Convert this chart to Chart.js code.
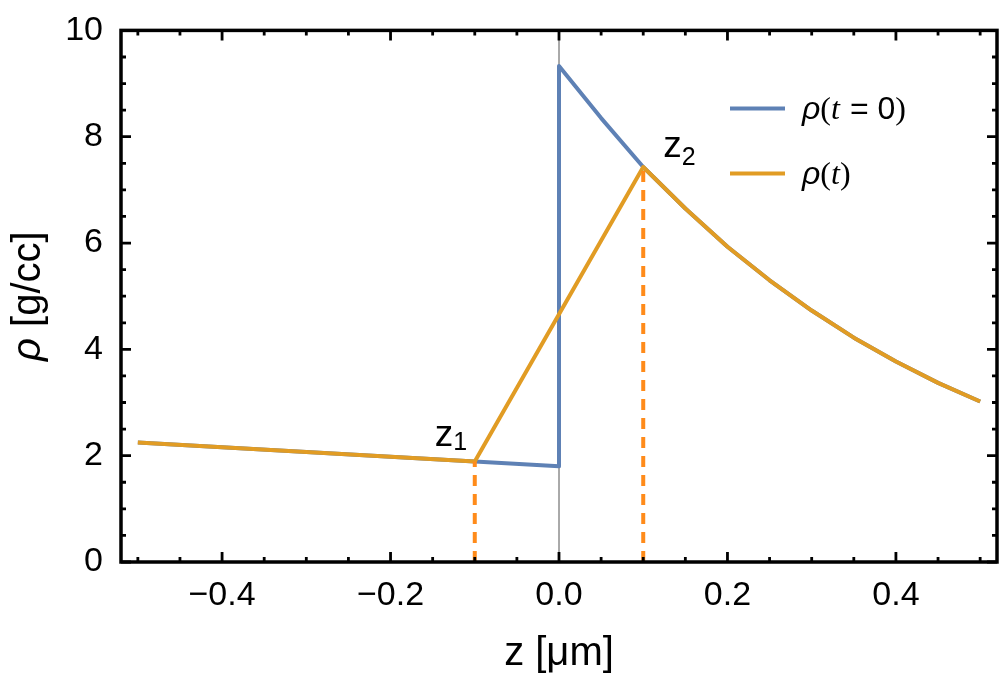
<!DOCTYPE html>
<html>
<head>
<meta charset="utf-8">
<script src="https://cdn.jsdelivr.net/npm/chart.js@4.4.1/dist/chart.umd.min.js"></script>
<style>
    html, body { margin: 0; padding: 0; background: #fff; }
    #wrap { width: 1000px; height: 675px; }
</style>
</head>
<body>
<div id="wrap"><canvas id="grafica" width="1000" height="675"></canvas></div>
<script>
// posiciones z [μm] y densidad rho [g/cc]
const zLeft = [-0.5, -0.1, 0.0];
const rhoLeft = [2.25, 1.89, 1.80];
const zRight = [0.0, 0.05, 0.1, 0.15, 0.2, 0.25, 0.3, 0.35, 0.4, 0.45, 0.5];
const rhoRight = [9.33, 8.35, 7.43, 6.65, 5.93, 5.30, 4.73, 4.22, 3.77, 3.37, 3.02];

// frentes z1 y z2
const zFronts = [-0.1, 0.1];
const rhoFronts = [1.89, 7.43];

// marcas de los ejes
const xTicks = [-0.4, -0.2, 0.0, 0.2, 0.4];
const xMinor = [-0.5, -0.45, -0.35, -0.3, -0.25, -0.15, -0.1, -0.05, 0.05, 0.1, 0.15, 0.25, 0.3, 0.35, 0.45, 0.5];
const yTicks = [0, 2, 4, 6, 8, 10];
const yMinor = [0.5, 1, 1.5, 2.5, 3, 3.5, 4.5, 5, 5.5, 6.5, 7, 7.5, 8.5, 9, 9.5];

const BLUE = '#5e81b5';
const ORANGE = '#e19c24';
const DASH = '#ff8b1a';
const SANS = '"Liberation Sans", Arial, sans-serif';
const SERIF = '"Liberation Serif", "Times New Roman", serif';

function pts(xs, ys) {
    return xs.map(function (x, i) { return {x: x, y: ys[i]}; });
}

const rho0 = pts(zLeft, rhoLeft).concat(pts(zRight, rhoRight));
const rhoT = pts(zLeft.slice(0, 2), rhoLeft.slice(0, 2)).concat(pts(zRight.slice(2), rhoRight.slice(2)));

// dibuja trozos de texto con fuentes distintas uno detras de otro
function drawRuns(ctx, runs, x, y, center) {
    let total = 0;
    runs.forEach(function (r) { ctx.font = r.f; total += ctx.measureText(r.t).width + (r.dx || 0); });
    let cx = center ? x - total / 2 : x;
    runs.forEach(function (r) {
        ctx.font = r.f;
        cx += (r.dx || 0);
        ctx.fillText(r.t, cx, y + (r.dy || 0));
        cx += ctx.measureText(r.t).width;
    });
}

const framePlugin = {
    id: 'frame',
    afterDraw: function (chart) {
        const ctx = chart.ctx;
        const a = chart.chartArea;
        const xs = chart.scales.x, ys = chart.scales.y;
        ctx.save();
        ctx.strokeStyle = '#000';
        ctx.fillStyle = '#000';

        // marcas hacia dentro en los cuatro lados
        ctx.lineWidth = 2.8;
        function xMark(v, len) {
            const p = xs.getPixelForValue(v);
            ctx.beginPath();
            ctx.moveTo(p, a.bottom); ctx.lineTo(p, a.bottom - len);
            ctx.moveTo(p, a.top); ctx.lineTo(p, a.top + len);
            ctx.stroke();
        }
        function yMark(v, len) {
            const p = ys.getPixelForValue(v);
            ctx.beginPath();
            ctx.moveTo(a.left, p); ctx.lineTo(a.left + len, p);
            ctx.moveTo(a.right, p); ctx.lineTo(a.right - len, p);
            ctx.stroke();
        }
        xTicks.forEach(function (v) { xMark(v, 10); });
        xMinor.forEach(function (v) { xMark(v, 5); });
        yTicks.forEach(function (v) { yMark(v, 10); });
        yMinor.forEach(function (v) { yMark(v, 5); });

        // marco
        ctx.lineWidth = 3.5;
        ctx.strokeRect(a.left, a.top, a.right - a.left, a.bottom - a.top);

        ctx.textBaseline = 'alphabetic';
        ctx.textAlign = 'left';

        // titulo eje x
        drawRuns(ctx, [{t: 'z [μm]', f: '40px ' + SANS}], (a.left + a.right) / 2, 665, true);

        // titulo eje y
        ctx.save();
        ctx.translate(40, (a.top + a.bottom) / 2);
        ctx.rotate(-Math.PI / 2);
        drawRuns(ctx, [
            {t: 'ρ', f: 'italic 40px ' + SANS},
            {t: ' [g/cc]', f: '40px ' + SANS}
        ], 0, 0, true);
        ctx.restore();

        // etiquetas z1, z2 junto a los frentes
        const p1x = xs.getPixelForValue(zFronts[0]), p1y = ys.getPixelForValue(rhoFronts[0]);
        const p2x = xs.getPixelForValue(zFronts[1]), p2y = ys.getPixelForValue(rhoFronts[1]);
        drawRuns(ctx, [{t: 'z', f: '37px ' + SANS}, {t: '1', f: '25px ' + SANS, dy: 4}], p1x - 40, p1y - 16);
        drawRuns(ctx, [{t: 'z', f: '37px ' + SANS}, {t: '2', f: '25px ' + SANS, dy: 8}], p2x + 20, p2y - 10);

        // leyenda
        const lx = a.right - 267, tx = a.right - 195;
        const rows = [
            {c: BLUE, runs: [
                {t: 'ρ', f: 'italic 32px ' + SANS},
                {t: '(', f: '32px ' + SERIF},
                {t: 't', f: 'italic 32px ' + SERIF},
                {t: '=', f: '32px ' + SANS, dx: 10},
                {t: '0', f: '32px ' + SANS, dx: 9},
                {t: ')', f: '32px ' + SERIF}
            ]},
            {c: ORANGE, runs: [
                {t: 'ρ', f: 'italic 32px ' + SANS},
                {t: '(', f: '32px ' + SERIF},
                {t: 't', f: 'italic 32px ' + SERIF},
                {t: ')', f: '32px ' + SERIF}
            ]}
        ];
        rows.forEach(function (r, i) {
            const y0 = a.top + 78 + i * 65;
            ctx.strokeStyle = r.c;
            ctx.lineWidth = 4;
            ctx.beginPath();
            ctx.moveTo(lx, y0); ctx.lineTo(lx + 55, y0);
            ctx.stroke();
            ctx.fillStyle = '#000';
            drawRuns(ctx, r.runs, tx, y0 + 11);
        });
        ctx.restore();
    }
};

document.addEventListener('DOMContentLoaded', function () {
    const ctx = document.getElementById('grafica').getContext('2d');
    new Chart(ctx, {
        type: 'line',
        data: {
            datasets: [
                {
                    label: 'z1',
                    data: [{x: zFronts[0], y: 0}, {x: zFronts[0], y: rhoFronts[0]}],
                    borderColor: DASH, borderWidth: 4, borderDash: [11, 8], order: 0
                },
                {
                    label: 'z2',
                    data: [{x: zFronts[1], y: 0}, {x: zFronts[1], y: rhoFronts[1]}],
                    borderColor: DASH, borderWidth: 4, borderDash: [11, 8], order: 0
                },
                {
                    label: 'ρ(t)',
                    data: rhoT,
                    borderColor: ORANGE, borderWidth: 4, order: 1
                },
                {
                    label: 'ρ(t = 0)',
                    data: rho0,
                    borderColor: BLUE, borderWidth: 4, order: 2
                },
                {
                    label: 'z = 0',
                    data: [{x: 0, y: 0}, {x: 0, y: 10}],
                    borderColor: '#555', borderWidth: 1, order: 3
                }
            ]
        },
        options: {
            responsive: false,
            animation: false,
            layout: {padding: {top: 20, right: 3, left: 0, bottom: 0}},
            plugins: {legend: {display: false}, tooltip: {enabled: false}},
            elements: {
                point: {radius: 0},
                line: {tension: 0, fill: false, borderJoinStyle: 'round', borderCapStyle: 'butt'}
            },
            scales: {
                x: {
                    type: 'linear',
                    min: -0.52,
                    max: 0.52,
                    afterBuildTicks: function (s) { s.ticks = xTicks.map(function (v) { return {value: v}; }); },
                    afterFit: function (s) { s.height = 113; },
                    grid: {display: false},
                    border: {display: false},
                    ticks: {
                        autoSkip: false, maxRotation: 0, padding: 5, color: '#000',
                        font: {family: SANS, size: 34},
                        callback: function (v) { return (v < 0 ? '−' : '') + Math.abs(v).toFixed(1); }
                    }
                },
                y: {
                    type: 'linear',
                    min: 0,
                    max: 10,
                    afterBuildTicks: function (s) { s.ticks = yTicks.map(function (v) { return {value: v}; }); },
                    afterFit: function (s) { s.width = 121; },
                    grid: {display: false},
                    border: {display: false},
                    ticks: {
                        autoSkip: false, padding: 10, color: '#000',
                        font: {family: SANS, size: 34},
                        callback: function (v) { return String(v); }
                    }
                }
            }
        },
        plugins: [framePlugin]
    });
});
</script>
</body>
</html>
